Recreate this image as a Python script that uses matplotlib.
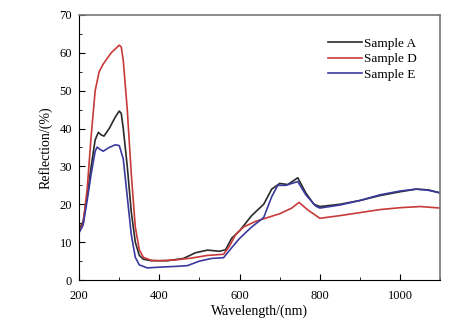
import matplotlib.pyplot as plt
from matplotlib.ticker import MultipleLocator

plt.rcParams["font.family"] = ["Liberation Serif", "DejaVu Serif"]

# Sample A (black)
wl_a = [200, 205, 210, 220, 230, 240, 248, 255, 262, 275, 290, 300, 305, 310, 320, 330, 340,
        350, 360, 380, 420, 460, 490, 520, 550, 565, 580, 600, 630, 660, 680, 700, 720,
        745, 765, 785, 800, 850, 900, 950, 1000, 1040, 1070, 1100]
ref_a = [13, 14.5, 15.5, 22, 30, 37, 39, 38.3, 38, 40, 43, 44.6, 44, 40, 30, 18, 10,
         6.5, 5.5, 5.1, 5.1, 5.7, 7.2, 7.9, 7.6, 8, 11, 13, 17, 20, 24, 25.5, 25.2,
         27, 23, 20, 19.4, 20, 21, 22.3, 23.3, 24, 23.8, 23]

# Sample D (red)
wl_d = [200, 205, 210, 220, 230, 240, 250, 260, 270, 280, 290, 300, 305, 310, 320, 330, 340,
        350, 360, 380, 400, 440, 480, 520, 560, 575, 590, 610, 640, 670, 700, 730,
        748, 770, 800, 850, 900, 950, 1000, 1050, 1100]
ref_d = [13, 14, 15, 24, 38, 50, 55, 57, 58.5, 60, 61, 62, 61.5, 58, 45, 28, 14,
         8, 6, 5.2, 5.1, 5.3, 5.8, 6.5, 6.8, 9, 12, 14, 15.5, 16.5, 17.5, 19,
         20.5, 18.5, 16.3, 17, 17.8, 18.6, 19.1, 19.4, 19]

# Sample E (blue)
wl_e = [200, 205, 210, 220, 230, 240, 245, 252, 260, 275, 290, 300, 310, 320, 330, 340,
        350, 370, 400, 440, 470, 500, 530, 560, 580, 600, 630, 660, 680, 695, 715,
        745, 765, 790, 800, 850, 900, 950, 1000, 1040, 1070, 1100]
ref_e = [12.5, 13.5, 14.5, 21, 28, 34, 35.1, 34.5, 34, 35, 35.7, 35.5, 32, 22, 12, 6,
         4, 3.2, 3.4, 3.6, 3.8, 5, 5.7, 5.9, 8.5, 11, 14, 16.5, 22, 25, 25,
         26, 22.5, 19.5, 19, 19.8, 21, 22.5, 23.5, 24, 23.7, 23]

fig = plt.figure(figsize=(4.6, 3.23), dpi=100)
ax = fig.add_axes([0.172, 0.133, 0.785, 0.821])

ax.plot(wl_a, ref_a, color="#2b2b2b", lw=1.2, label="Sample A")
ax.plot(wl_d, ref_d, color="#c83a3a", lw=1.2, label="Sample D")
ax.plot(wl_e, ref_e, color="#3a3a9e", lw=1.2, label="Sample E")

ax.set_xlim(200, 1100)
ax.set_ylim(0, 70)
ax.xaxis.set_major_locator(MultipleLocator(200))
ax.xaxis.set_minor_locator(MultipleLocator(100))
ax.yaxis.set_major_locator(MultipleLocator(10))
ax.yaxis.set_minor_locator(MultipleLocator(5))
ax.tick_params(which="both", direction="in", labelsize=9)
ax.tick_params(axis="x", which="major", length=4, pad=7)
ax.tick_params(axis="y", which="major", length=4, pad=5)
ax.tick_params(which="minor", length=2.5)
for s in ["top", "right"]:
    ax.spines[s].set_color("#777777")
    ax.spines[s].set_linewidth(1.2)

ax.set_xlabel("Wavelength/(nm)", fontsize=10, labelpad=2)
ax.set_ylabel("Reflection/(%)", fontsize=10, labelpad=5)

ax.legend(loc="upper right", frameon=False, fontsize=9.5, handlelength=2.6,
          labelspacing=0.25, handletextpad=0.15, borderaxespad=0,
          bbox_to_anchor=(0.95, 0.935))

fig.savefig("out.png", dpi=100)
